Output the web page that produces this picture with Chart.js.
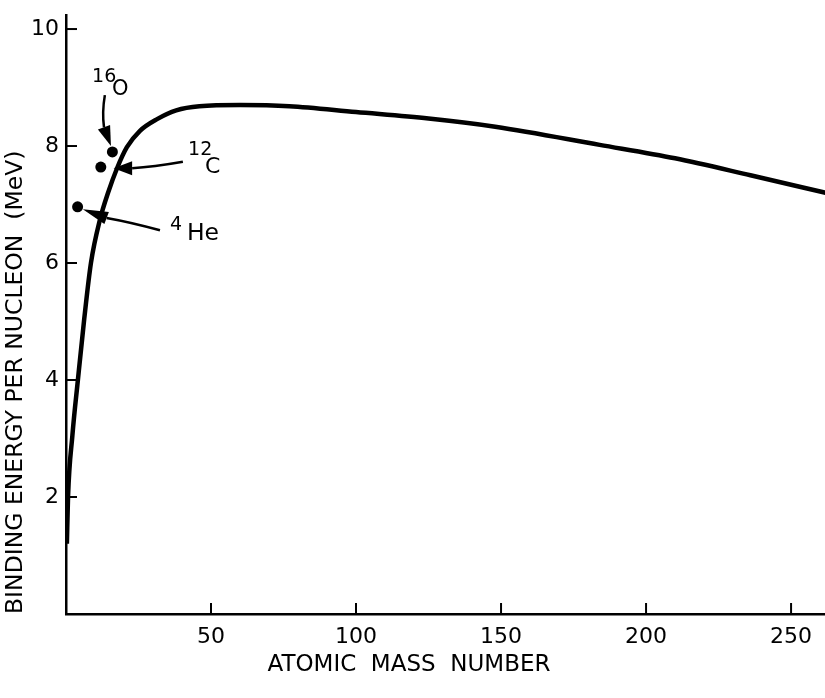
<!DOCTYPE html>
<html>
<head>
<meta charset="utf-8">
<script src="https://cdn.jsdelivr.net/npm/chart.js@4/dist/chart.umd.min.js"></script>
<style>
html,body{margin:0;padding:0;background:#fff;}
#wrap{width:825px;height:698px;}
</style>
</head>
<body>
<div id="wrap"><canvas id="c" width="825" height="698"></canvas></div>
<script>
// ---- data ----
const massNumbers   = [0.3, 0.7, 2.2, 4.1, 6.3, 8.6, 11.7, 14.5, 17.6, 21.0, 25.5, 31.4, 38, 46, 60, 77, 100, 125, 148, 184, 210, 236, 262];
const bindingEnergy = [1.2, 2.0, 3.05, 4.0, 5.05, 6.0, 6.74, 7.2, 7.62, 7.98, 8.26, 8.46, 8.61, 8.68, 8.70, 8.68, 8.58, 8.47, 8.33, 8.02, 7.79, 7.50, 7.20];
const nuclideNames  = ['4He', '12C', '16O'];
const nuclideMass   = [4, 12, 16];
const nuclideEnergy = [6.96, 7.64, 7.90];
const xTickValues   = [50, 100, 150, 200, 250];
const yTickValues   = [2, 4, 6, 8, 10];
const xTitle = 'ATOMIC  MASS  NUMBER';
const yTitle = 'BINDING ENERGY PER NUCLEON  (MeV)';

// ---- annotation layout (data coordinates) ----
const annotations = [
  { mass: '16', sym: 'O',  massAt: [9.0, 9.09],  symAt: [15.9, 8.87], symSize: 21,
    shaft: [[13.4, 8.87], [12.4, 8.58], [13.1, 8.32]], tip: [15.5, 8.0], headWidth: 13 },
  { mass: '12', sym: 'C',  massAt: [42.1, 7.85], symAt: [47.9, 7.54], symSize: 22,
    shaft: [[40.3, 7.73], [30.0, 7.64], [22.8, 7.62]], tip: [16.4, 7.62], headWidth: 14 },
  { mass: '4',  sym: 'He', massAt: [35.9, 6.56], symAt: [41.7, 6.39], symSize: 23.5,
    shaft: [[32.4, 6.56], [22.0, 6.70], [14.0, 6.77]], tip: [5.8, 6.92], headWidth: 13 }
];

const FONT = 'DejaVu Sans';

const inwardTicks = {
  id: 'inwardTicks',
  afterDraw(chart) {
    const { ctx, chartArea: a, scales: { x, y } } = chart;
    ctx.save();
    ctx.strokeStyle = '#000';
    ctx.lineWidth = 2;
    xTickValues.forEach(v => {
      const px = x.getPixelForValue(v);
      ctx.beginPath(); ctx.moveTo(px, a.bottom); ctx.lineTo(px, a.bottom - 11); ctx.stroke();
    });
    yTickValues.forEach(v => {
      const py = y.getPixelForValue(v);
      ctx.beginPath(); ctx.moveTo(a.left, py); ctx.lineTo(a.left + 11, py); ctx.stroke();
    });
    ctx.restore();
  }
};

const nuclideLabels = {
  id: 'nuclideLabels',
  afterDatasetsDraw(chart) {
    const { ctx, scales: { x, y } } = chart;
    const P = p => [x.getPixelForValue(p[0]), y.getPixelForValue(p[1])];
    ctx.save();
    ctx.fillStyle = '#000';
    ctx.strokeStyle = '#000';
    ctx.textBaseline = 'alphabetic';
    ctx.textAlign = 'left';
    annotations.forEach(an => {
      ctx.font = '19px "' + FONT + '"';
      let p = P(an.massAt); ctx.fillText(an.mass, p[0], p[1]);
      ctx.font = an.symSize + 'px "' + FONT + '"';
      p = P(an.symAt); ctx.fillText(an.sym, p[0], p[1]);
      const s0 = P(an.shaft[0]), s1 = P(an.shaft[1]), s2 = P(an.shaft[2]);
      ctx.lineWidth = 2.5;
      ctx.beginPath(); ctx.moveTo(s0[0], s0[1]); ctx.quadraticCurveTo(s1[0], s1[1], s2[0], s2[1]); ctx.stroke();
      const t = P(an.tip);
      const dx = t[0] - s2[0], dy = t[1] - s2[1];
      const len = Math.hypot(dx, dy) || 1;
      const nx = -dy / len, ny = dx / len, hw = an.headWidth / 2;
      ctx.beginPath();
      ctx.moveTo(t[0], t[1]);
      ctx.lineTo(s2[0] + nx * hw, s2[1] + ny * hw);
      ctx.lineTo(s2[0] - nx * hw, s2[1] - ny * hw);
      ctx.closePath();
      ctx.fill();
    });
    ctx.restore();
  }
};

new Chart(document.getElementById('c').getContext('2d'), {
  type: 'line',
  data: {
    datasets: [
      {
        type: 'line',
        label: 'Binding energy',
        data: massNumbers.map((m, i) => ({ x: m, y: bindingEnergy[i] })),
        borderColor: '#000',
        borderWidth: 4.5,
        pointRadius: 0,
        cubicInterpolationMode: 'monotone',
        fill: false
      },
      {
        type: 'scatter',
        label: 'Nuclides',
        data: nuclideMass.map((m, i) => ({ x: m, y: nuclideEnergy[i], name: nuclideNames[i] })),
        pointRadius: 5.5,
        backgroundColor: '#000',
        borderColor: '#000',
        borderWidth: 0,
        showLine: false
      }
    ]
  },
  options: {
    responsive: false,
    animation: false,
    devicePixelRatio: 1,
    layout: { autoPadding: false, padding: { top: 15, right: 0, left: 0, bottom: 0 } },
    plugins: { legend: { display: false }, tooltip: { enabled: false } },
    scales: {
      x: {
        type: 'linear', min: 0, max: 261.7,
        afterBuildTicks: s => { s.ticks = xTickValues.map(v => ({ value: v })); },
        afterFit: s => { s.height = 84; s.paddingLeft = 0; s.paddingRight = 0; },
        grid: { display: true, drawOnChartArea: false, drawTicks: false },
        border: { display: true, color: '#000', width: 2.5 },
        ticks: { color: '#000', font: { family: FONT, size: 22 }, padding: 10, maxRotation: 0, autoSkip: false },
        title: { display: true, text: xTitle + '          ', color: '#000',
                 font: { family: FONT, size: 23 }, padding: { top: 0, bottom: 19 } }
      },
      y: {
        type: 'linear', min: 0, max: 10.24,
        afterBuildTicks: s => { s.ticks = yTickValues.map(v => ({ value: v })); },
        afterFit: s => { s.width = 66; s.paddingTop = 0; s.paddingBottom = 0; },
        grid: { display: true, drawOnChartArea: false, drawTicks: false },
        border: { display: true, color: '#000', width: 2.5 },
        ticks: { color: '#000', font: { family: FONT, size: 22 }, padding: 7, autoSkip: false },
        title: { display: true, text: yTitle, align: 'start', color: '#000',
                 font: { family: FONT, size: 23.5 }, padding: { top: 2, bottom: 0 } }
      }
    }
  },
  plugins: [inwardTicks, nuclideLabels]
});
</script>
</body>
</html>
